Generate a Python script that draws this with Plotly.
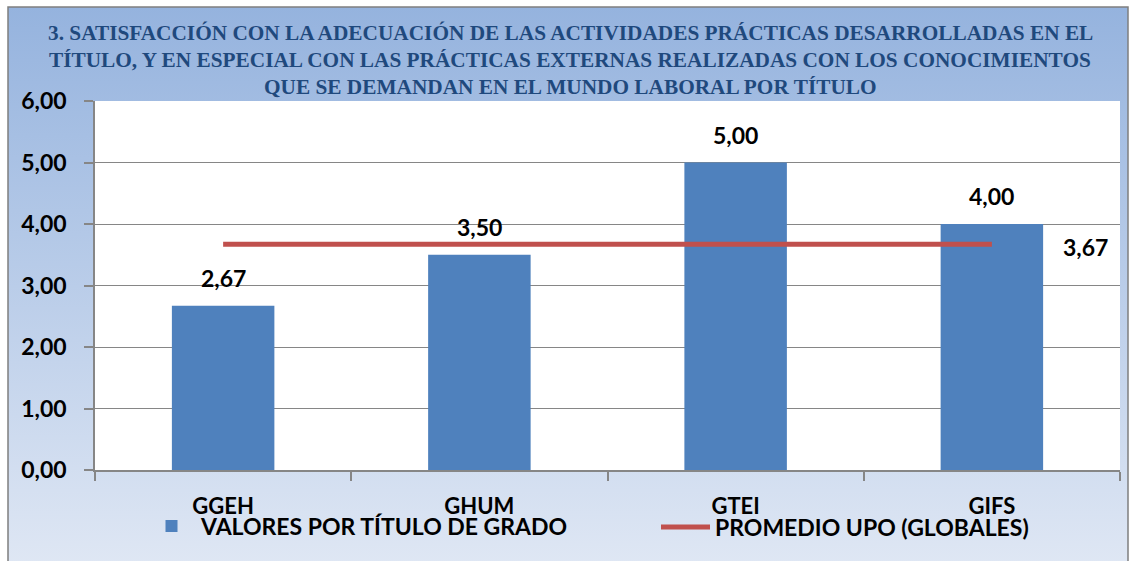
import base64
import plotly.graph_objects as go

# ---- data ----
categories = ["GGEH", "GHUM", "GTEI", "GIFS"]
bar_values = [2.67, 3.50, 5.00, 4.00]
avg_value = 3.67
avg_values = [avg_value] * len(categories)
y_tick_vals = [0, 1, 2, 3, 4, 5, 6]
y_tick_text = ["0,00", "1,00", "2,00", "3,00", "4,00", "5,00", "6,00"]
title_lines = [
    "3. SATISFACCIÓN CON LA ADECUACIÓN DE LAS ACTIVIDADES PRÁCTICAS DESARROLLADAS EN EL",
    "TÍTULO, Y EN ESPECIAL CON LAS PRÁCTICAS EXTERNAS REALIZADAS CON LOS CONOCIMIENTOS",
    "QUE SE DEMANDAN EN EL MUNDO LABORAL POR TÍTULO",
]
bar_name = "VALORES POR TÍTULO DE GRADO"
line_name = "PROMEDIO UPO (GLOBALES)"

def fmt(v):
    return f"{v:.2f}".replace(".", ",")

W, H = 1136, 561
ML, MR, MT, MB = 95, 16, 101, 91
PW = W - ML - MR
PH = H - MT - MB

def px_x(px):
    return (px - ML) / PW

def px_y(py):
    return (H - MB - py) / PH

SANS = "Lato, 'Open Sans', sans-serif"
SERIF = "'Liberation Serif', 'DejaVu Serif', serif"
BLUE = "#4F81BD"
RED = "#C0504D"
GRID = "#868686"
BOLD_SANS = dict(family=SANS, size=23, color="black", weight="bold")
CAT_FONT = dict(family=SANS, size=22, color="black", weight="bold")

fig = go.Figure()
fig.add_trace(go.Bar(
    x=categories, y=bar_values, name=bar_name,
    marker=dict(color=BLUE, line=dict(width=0)),
    width=0.4, legend="legend",
))
fig.add_trace(go.Scatter(
    x=categories, y=avg_values, name=line_name, mode="lines",
    line=dict(color=RED, width=5), legend="legend2",
))

annotations = []
for c, v in zip(categories, bar_values):
    annotations.append(dict(
        x=c, y=v, text=fmt(v), showarrow=False, yshift=28,
        yanchor="middle", font=BOLD_SANS,
    ))
annotations.append(dict(
    x=categories[-1], y=avg_values[-1], text=fmt(avg_values[-1]), showarrow=False,
    xshift=94, yshift=-3, yanchor="middle", font=BOLD_SANS,
))
title_y_px = [33, 60, 87]
for t, ty in zip(title_lines, title_y_px):
    annotations.append(dict(
        xref="paper", yref="paper", x=px_x(570), y=px_y(ty), text=t,
        showarrow=False, xanchor="center", yanchor="middle",
        font=dict(family=SERIF, size=21.3, color="#1F497D", weight="bold"),
    ))

# gradient background via svg image
svg = ("<svg xmlns='http://www.w3.org/2000/svg' width='100' height='100' preserveAspectRatio='none'>"
       "<defs><linearGradient id='g' x1='0' y1='0' x2='0' y2='1'>"
       "<stop offset='0' stop-color='#95B3DE'/><stop offset='1' stop-color='#DFE7F4'/>"
       "</linearGradient></defs><rect width='100' height='100' fill='url(#g)'/></svg>")
src = "data:image/svg+xml;base64," + base64.b64encode(svg.encode()).decode()
bx0, bx1, by0, by1 = px_x(8), px_x(1128), px_y(566), px_y(7)

legend_common = dict(
    orientation="h", yanchor="middle", xanchor="left",
    font=dict(family=SANS, size=23, color="black", weight="bold"),
    bgcolor="rgba(0,0,0,0)", itemwidth=49, borderwidth=0,
)

fig.update_layout(
    width=W, height=H,
    margin=dict(l=ML, r=MR, t=MT, b=MB, pad=0, autoexpand=False),
    paper_bgcolor="white", plot_bgcolor="white",
    showlegend=True,
    legend=dict(x=px_x(142), y=px_y(526), **legend_common),
    legend2=dict(x=px_x(656), y=px_y(527), **legend_common),
    images=[dict(source=src, xref="paper", yref="paper", x=bx0, y=by1,
                 sizex=bx1 - bx0, sizey=by1 - by0, xanchor="left", yanchor="top",
                 sizing="stretch", layer="below")],
    shapes=[
        dict(type="rect", xref="paper", yref="paper", x0=bx0, x1=bx1, y0=by0, y1=by1,
             line=dict(color="#7F7F7F", width=1.5), fillcolor="rgba(0,0,0,0)", layer="below"),
        dict(type="rect", xref="paper", yref="paper", x0=0, x1=1, y0=0, y1=1,
             line=dict(width=0), fillcolor="white", layer="below"),
    ],
    annotations=annotations,
)
fig.update_xaxes(
    type="category", showline=True, linecolor=GRID, linewidth=1.5,
    ticks="outside", tickson="boundaries", ticklen=9, tickcolor=GRID, tickwidth=1.5,
    tickfont=CAT_FONT, ticklabelstandoff=16, showgrid=False, zeroline=False,
)
fig.update_yaxes(
    range=[0, 6], tickvals=y_tick_vals, ticktext=y_tick_text,
    showline=True, linecolor=GRID, linewidth=1.5,
    ticks="outside", ticklen=9, tickcolor=GRID, tickwidth=1.5,
    tickfont=BOLD_SANS, ticklabelstandoff=13,
    showgrid=True, gridcolor=GRID, gridwidth=1.2, zeroline=False,
)

fig.write_html("out.html", config={"displayModeBar": False},
               post_script="document.body.style.margin='0';")
